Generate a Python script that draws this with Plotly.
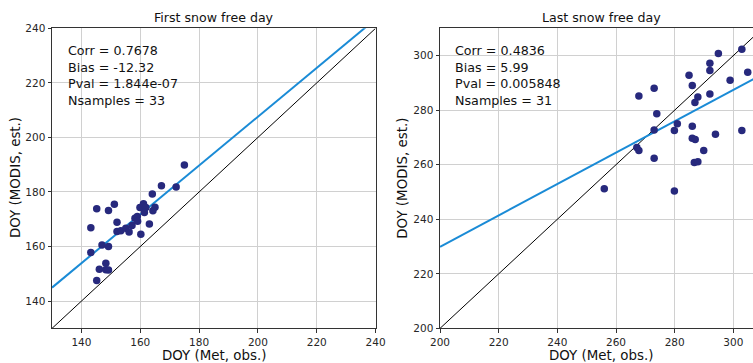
import plotly.graph_objects as go

# First snow free day: station (Met) vs MODIS-estimated day of year
first_obs = [167.2, 172.2, 164.1, 145.2, 151.2, 149.2, 143.2, 152.1, 159.9, 161.1,
             161.9, 161.4, 165.0, 164.3, 163.1, 160.2, 152.1, 153.4, 155.1, 156.2,
             157.2, 158.2, 159.0, 159.1, 143.2, 147.0, 149.2, 148.3, 146.1, 148.3,
             149.2, 145.2, 175.0]
first_est = [182.3, 181.8, 179.3, 173.9, 175.5, 173.2, 166.9, 168.9, 174.3, 175.7,
             174.3, 172.5, 174.4, 173.1, 168.3, 164.5, 165.5, 165.8, 166.7, 165.3,
             167.7, 170.4, 171.0, 169.3, 157.8, 160.6, 160.0, 153.9, 151.7, 151.5,
             151.4, 147.6, 189.9]

# Last snow free day
last_obs = [267.8, 273.0, 273.9, 273.0, 273.0, 267.1, 267.8, 280.9, 279.9, 284.9,
            286.0, 287.9, 286.9, 286.0, 286.0, 287.0, 289.9, 286.7, 287.9, 294.9,
            292.0, 292.0, 292.0, 293.9, 298.9, 302.9, 304.9, 302.9, 256.0, 279.9,
            309.0]
last_est = [285.2, 288.0, 278.7, 272.7, 262.4, 266.3, 265.2, 275.0, 272.5, 292.8,
            289.0, 284.8, 282.8, 274.1, 269.7, 269.2, 265.2, 260.8, 261.1, 300.8,
            297.2, 294.5, 285.9, 271.2, 291.0, 302.3, 293.9, 272.5, 251.2, 250.4,
            283.0]

# Linear fits (slope, intercept)
fit_first = (0.895, 28.6)
fit_last = (0.575, 114.9)

stats_first = ["Corr = 0.7678", "Bias = -12.32", "Pval = 1.844e-07", "Nsamples = 33"]
stats_last = ["Corr = 0.4836", "Bias = 5.99", "Pval = 0.005848", "Nsamples = 31"]

ticks_first = [140, 160, 180, 200, 220, 240]
ticks_last = [200, 220, 240, 260, 280, 300]
lim_first = (130, 240)
lim_last_x = (200, 306.7)
lim_last_y = (200, 310)

W, H = 753, 363
FONT = "DejaVu Sans"
DOT = "#27297d"
FIT = "#1a8bd6"
SPINE = "#333333"
GRID = "#d0d0d0"

fig = go.Figure()


def add_panel(xs, ys, fit, xlim, ylim, xa, ya):
    x0, x1 = xlim[0], max(xlim[1], ylim[1])
    fig.add_trace(go.Scatter(x=[x0, x1], y=[x0, x1], mode="lines",
                             line=dict(color="black", width=1),
                             xaxis=xa, yaxis=ya, showlegend=False, hoverinfo="skip"))
    fig.add_trace(go.Scatter(x=[x0, x1], y=[fit[0] * x0 + fit[1], fit[0] * x1 + fit[1]],
                             mode="lines", line=dict(color=FIT, width=2),
                             xaxis=xa, yaxis=ya, showlegend=False, hoverinfo="skip"))
    fig.add_trace(go.Scatter(x=xs, y=ys, mode="markers",
                             marker=dict(color=DOT, size=7.5, line=dict(width=0)),
                             xaxis=xa, yaxis=ya, showlegend=False, cliponaxis=True))


add_panel(first_obs, first_est, fit_first, lim_first, lim_first, "x", "y")
add_panel(last_obs, last_est, fit_last, lim_last_x, lim_last_y, "x2", "y2")

ydom = [(H - 328.4) / H, (H - 28.3) / H]
axis_common = dict(showgrid=True, gridcolor=GRID, gridwidth=1, zeroline=False,
                   showline=True, linecolor=SPINE, linewidth=1, automargin=False,
                   ticks="outside", ticklen=3.5, tickcolor=SPINE, tickwidth=1,
                   tickfont=dict(family=FONT, size=10.5, color="#262626"))

fig.update_layout(
    width=W, height=H,
    margin=dict(l=0, r=0, t=0, b=0),
    paper_bgcolor="white", plot_bgcolor="white",
    xaxis=dict(domain=[52 / W, 375.6 / W], range=list(lim_first), tickvals=ticks_first,
               mirror=True, anchor="y", **axis_common),
    yaxis=dict(domain=ydom, range=list(lim_first), tickvals=ticks_first,
               mirror=True, anchor="x", **axis_common),
    xaxis2=dict(domain=[440 / W, 1.0], range=list(lim_last_x), tickvals=ticks_last,
                mirror=True, anchor="y2", **axis_common),
    yaxis2=dict(domain=ydom, range=list(lim_last_y), tickvals=ticks_last,
                mirror=False, anchor="x2", **axis_common),
)

def text(x, y, s, size, **kw):
    fig.add_annotation(x=x / W, y=1 - y / H, xref="paper", yref="paper", text=s,
                       showarrow=False, font=dict(family=FONT, size=size, color="#111111"),
                       **kw)

# Panel titles
text(213.8, 17, "First snow free day", 12.6, xanchor="center", yanchor="middle")
text(601, 17, "Last snow free day", 12.6, xanchor="center", yanchor="middle")

# Statistics boxes
text(66, 75.4, "<br>".join(stats_first), 12.7, xanchor="left", yanchor="middle", align="left")
text(453.3, 75.4, "<br>".join(stats_last), 12.7, xanchor="left", yanchor="middle", align="left")

# Axis titles
text(213.8, 355, "DOY (Met, obs.)", 13.4, xanchor="center", yanchor="middle")
text(601, 355, "DOY (Met, obs.)", 13.4, xanchor="center", yanchor="middle")
text(15, 178, "DOY (MODIS, est.)", 13.4, xanchor="center", yanchor="middle", textangle=-90)
text(401.7, 178, "DOY (MODIS, est.)", 13.4, xanchor="center", yanchor="middle", textangle=-90)

fig.write_html("out.html")
